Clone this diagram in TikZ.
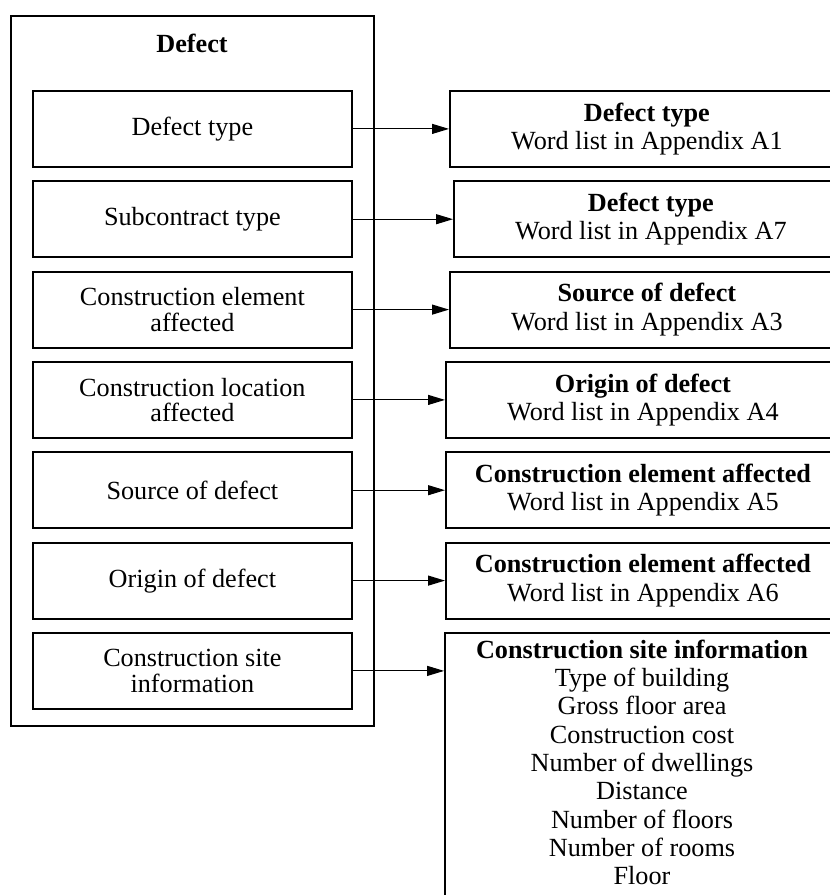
\documentclass[tikz,border=0pt]{standalone}
\usepackage{fontspec}
\setmainfont{Liberation Serif}
\usetikzlibrary{arrows.meta}
\begin{document}
\begin{tikzpicture}[x=1pt,y=-1pt,
  txt/.style={font=\fontsize{26.2}{28.3}\selectfont},
  frame/.style={draw,line width=1.8pt,inner sep=0pt},
  field/.style={frame,font=\fontsize{26.2}{25.5}\selectfont,align=center,minimum width=319pt,minimum height=76pt,anchor=north west},
  target/.style={frame,txt,align=center,minimum width=394pt,minimum height=76pt,anchor=north west},
  link/.style={line width=1.1pt,-{Triangle[length=17pt,width=10pt]}}]
\useasboundingbox (0,0) rectangle (830,895);
\clip (0,0) rectangle (830,895);

% container for the defect record
\node[frame,minimum width=363pt,minimum height=710pt,anchor=north west] (defect) at (10,15) {};
\node[font=\fontsize{26.2}{28.3}\selectfont\bfseries,anchor=base] (title) at (192,52) {Defect};

% fields of the record
\node[field] (f1) at (32,90)    {Defect type};
\node[field] (f2) at (32,180.3) {Subcontract type};
\node[field] (f3) at (32,270.7) {Construction element\\affected};
\node[field] (f4) at (32,361)   {Construction location\\affected};
\node[field] (f5) at (32,451.3) {Source of defect};
\node[field] (f6) at (32,541.7) {Origin of defect};
\node[field] (f7) at (32,632)   {Construction site\\information};

% word lists
\node[target] (w1) at (449,90)    {\textbf{Defect type}\\Word list in Appendix A1};
\node[target] (w2) at (453,180.3) {\textbf{Defect type}\\Word list in Appendix A7};
\node[target] (w3) at (449,270.7) {\textbf{Source of defect}\\Word list in Appendix A3};
\node[target] (w4) at (445,361)   {\textbf{Origin of defect}\\Word list in Appendix A4};
\node[target] (w5) at (445,451.3) {\textbf{Construction element affected}\\Word list in Appendix A5};
\node[target] (w6) at (445,541.7) {\textbf{Construction element affected}\\Word list in Appendix A6};
\node[frame,txt,align=center,minimum width=394pt,inner ysep=7pt,anchor=north] (w7) at (642,632)
  {\textbf{Construction site information}\\Type of building\\Gross floor area\\Construction cost\\
   Number of dwellings\\Distance\\Number of floors\\Number of rooms\\Floor\\[40pt]\strut};

% links from fields to word lists
\foreach \i in {1,...,7}
  \draw[link] (f\i.east) -- (f\i.east -| w\i.west);
\end{tikzpicture}
\end{document}
